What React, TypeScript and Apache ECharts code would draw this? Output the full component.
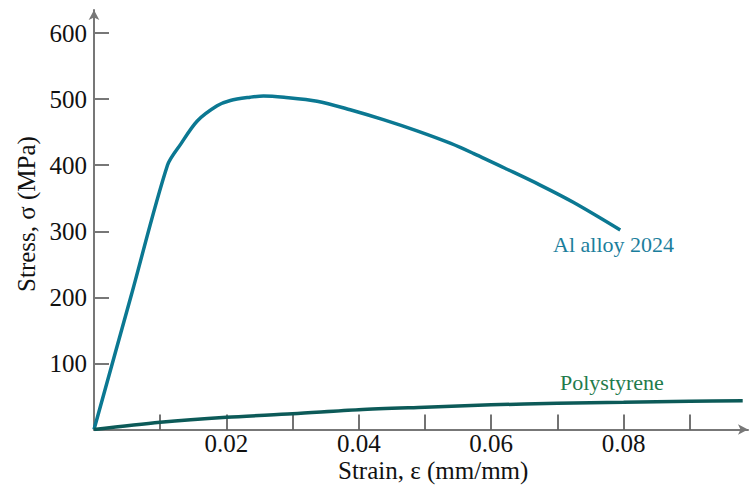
import React, { useEffect, useRef } from "react";
import * as echarts from "echarts";

const alStrain = [0, 0.0056, 0.0111, 0.0131, 0.0156, 0.0186, 0.0206, 0.0236, 0.0256, 0.0287, 0.0337, 0.0387, 0.0437, 0.0488, 0.0539, 0.0573, 0.0624, 0.0674, 0.0724, 0.0795];
const alStress = [0, 202, 400, 432, 467, 490, 498, 503, 505, 503, 497, 484, 469, 452, 433, 418, 394, 370, 344, 302];

const psStrain = [0, 0.01, 0.02, 0.03, 0.04, 0.05, 0.06, 0.07, 0.08, 0.09, 0.098];
const psStress = [0, 11, 18.6, 23.7, 29.8, 33.7, 37.3, 39.8, 41.3, 42.8, 43.4];

const xTicks = [0.01, 0.02, 0.03, 0.04, 0.05, 0.06, 0.07, 0.08, 0.09];
const xLabels = [0.02, 0.04, 0.06, 0.08];
const yTicks = [100, 200, 300, 400, 500, 600];

const xTitle = "Strain, ε (mm/mm)";
const yTitle = "Stress, σ (MPa)";

const FONT = "Liberation Serif";

export default function App() {
  const ref = useRef<HTMLDivElement>(null);
  useEffect(() => {
    if (!ref.current) return;
    const chart = echarts.init(ref.current, null, { renderer: "svg" });
    const axisColor = "#777";
    chart.setOption({
      animation: false,
      backgroundColor: "#fff",
      grid: { left: 94, right: 1, top: 10, bottom: 57.5 },
      xAxis: {
        type: "value",
        min: 0,
        max: 0.0988,
        axisLine: { show: true, lineStyle: { color: axisColor, width: 2 }, symbol: ["none", "arrow"], symbolSize: [8, 10] },
        axisTick: { show: true, inside: true, length: 15, customValues: xTicks, lineStyle: { color: "#444", width: 1.5 } },
        axisLabel: { customValues: xLabels, formatter: (v: number) => v.toFixed(2), fontFamily: FONT, fontSize: 25, color: "#111", margin: 1 },
        splitLine: { show: false },
      },
      yAxis: {
        type: "value",
        min: 0,
        max: 635,
        axisLine: { show: true, lineStyle: { color: axisColor, width: 2 }, symbol: ["none", "arrow"], symbolSize: [8, 10] },
        axisTick: { show: true, inside: true, length: 15, customValues: yTicks, lineStyle: { color: axisColor, width: 2 } },
        axisLabel: { customValues: yTicks, fontFamily: FONT, fontSize: 25, color: "#111", margin: 7 },
        splitLine: { show: false },
      },
      series: [
        {
          type: "line",
          name: "Al alloy 2024",
          data: alStrain.map((x, i) => [x, alStress[i]]),
          smooth: 0.3,
          showSymbol: false,
          lineStyle: { color: "#0b7892", width: 3.5 },
          z: 3,
        },
        {
          type: "line",
          name: "Polystyrene",
          data: psStrain.map((x, i) => [x, psStress[i]]),
          smooth: 0.3,
          showSymbol: false,
          lineStyle: { color: "#0c5a58", width: 3.5 },
          z: 4,
        },
      ],
      graphic: [
        { type: "text", x: 338, y: 458, style: { text: xTitle, fontFamily: FONT, fontSize: 25, fill: "#111", textAlign: "left", textVerticalAlign: "top" } },
        { type: "text", x: 26, y: 214, rotation: Math.PI / 2, style: { text: yTitle, fontFamily: FONT, fontSize: 25, fill: "#111", textAlign: "center", textVerticalAlign: "middle" } },
        { type: "text", left: 553, top: 233, style: { text: "Al alloy 2024", fontFamily: FONT, fontSize: 22, fill: "#1b7e9c" } },
        { type: "text", left: 560, top: 371, style: { text: "Polystyrene", fontFamily: FONT, fontSize: 22, fill: "#1f7b4c" } },
      ],
    });
    return () => chart.dispose();
  }, []);
  return <div ref={ref} style={{ position: "absolute", left: 0, top: 0, width: 749, height: 487 }} />;
}
